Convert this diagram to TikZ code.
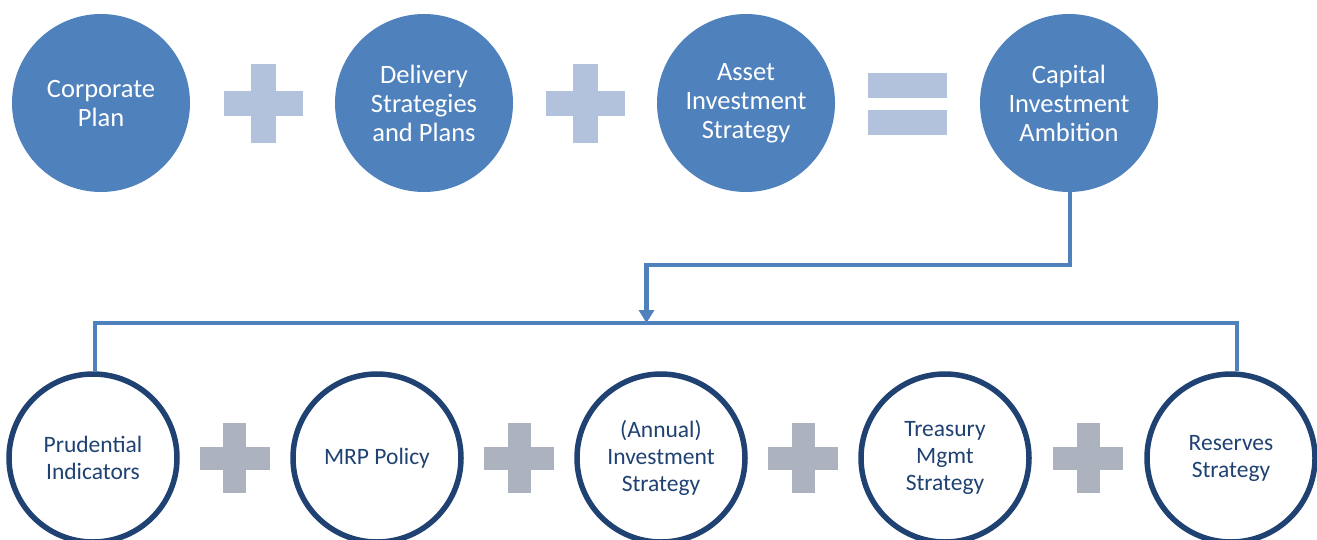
\documentclass[tikz,border=0pt]{standalone}
\usepackage{fontspec}
\setmainfont{Carlito}
\usetikzlibrary{arrows.meta}
\definecolor{topblue}{HTML}{4F81BD}
\definecolor{lightop}{HTML}{B3C2DC}
\definecolor{navy}{HTML}{1F4273}
\definecolor{greyop}{HTML}{ADB2BF}
\tikzset{
  topcirc/.style={circle,fill=topblue,minimum size=178pt,inner sep=0pt,text=white,align=center,font=\fontsize{26.5}{29}\selectfont},
  botcirc/.style={circle,draw=navy,line width=5.5pt,fill=white,minimum size=168pt,inner sep=0pt,text=navy,align=center,font=\fontsize{23.5}{27}\selectfont},
  conn/.style={draw=topblue,line width=4.5pt},
  topplus/.pic={\fill[lightop] (-39.5,-12.5) rectangle (39.5,12.5); \fill[lightop] (-12.5,-39.5) rectangle (12.5,39.5);},
  botplus/.pic={\fill[greyop] (-35,-11.5) rectangle (35,11.5); \fill[greyop] (-11.5,-35) rectangle (11.5,35);},
  equalsign/.pic={\fill[lightop] (-39.5,-31) rectangle (39.5,-6); \fill[lightop] (-39.5,6) rectangle (39.5,31);}
}
\begin{document}
\begin{tikzpicture}[x=1pt,y=-1pt]
\useasboundingbox (0,0) rectangle (1317,539);
\node[topcirc] (cp) at (101,103) {Corporate\\Plan};
\node[topcirc] (ds) at (424,103) {Delivery\\Strategies\\and Plans};
\node[topcirc] (ai) at (746,103) {Asset\\Investment\\Strategy};
\node[topcirc] (ca) at (1069,103) {Capital\\Investment\\Ambition};
\pic at (263.5,103.5) {topplus};
\pic at (585.5,103.5) {topplus};
\pic at (907.5,103.5) {equalsign};

\node[botcirc] (pi) at (93,458) {Prudential\\Indicators};
\node[botcirc] (mrp) at (377,458) {MRP Policy};
\node[botcirc] (ais) at (661,458) {(Annual)\\Investment\\Strategy};
\node[botcirc] (tm) at (945,458) {Treasury\\Mgmt\\Strategy};
\node[botcirc] (rs) at (1231,458) {Reserves\\Strategy};
\pic at (234.5,458) {botplus};
\pic at (519,458) {botplus};
\pic at (803,458) {botplus};
\pic at (1088,458) {botplus};

\coordinate (bend) at (1070,265);
\coordinate (mid) at (646.5,323);
\coordinate (busL) at (95,323);
\coordinate (busR) at (1237,323);
\draw[conn,-{Triangle[length=13pt,width=15pt]}] (ca.south -| bend) -- (bend) -| (mid);
\draw[conn] (pi.north -| busL) -- (busL) -- (busR) -- (rs.north -| busR);
\end{tikzpicture}
\end{document}
